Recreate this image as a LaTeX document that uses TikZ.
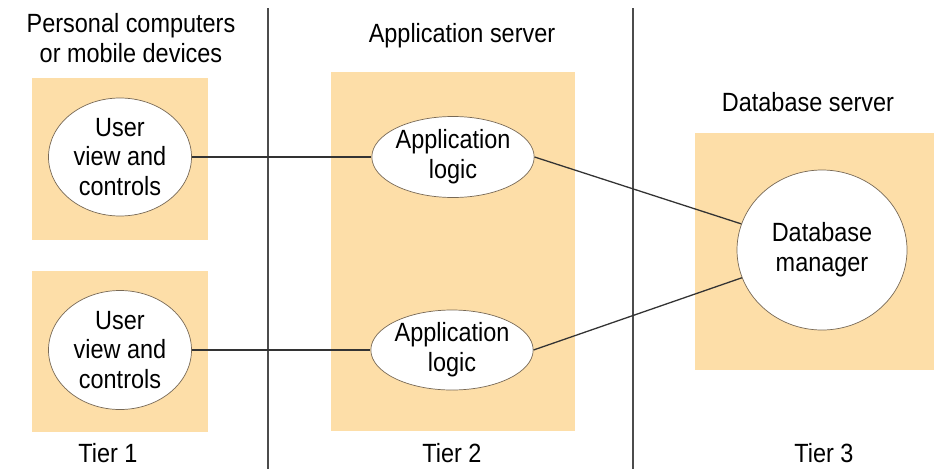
\documentclass[tikz,border=0pt]{standalone}
\usepackage{fontspec}
\setmainfont[FakeStretch=0.89]{Liberation Sans}
\usetikzlibrary{shapes.geometric}

\definecolor{tierfill}{RGB}{253,222,168}
\definecolor{rim}{RGB}{120,105,85}

\tikzset{
    tierbox/.style={fill=tierfill, draw=none},
    proc/.style={ellipse, draw=rim, line width=0.6pt, fill=white, inner sep=0pt,
        align=center, font=\fontsize{22.5}{25.5}\selectfont},
    caption/.style={align=center, font=\fontsize{22.5}{25.5}\selectfont, inner sep=0pt},
    link/.style={draw=black!80, line width=1.1pt},
    divider/.style={draw=black!70, line width=1pt}
}

\begin{document}
\begin{tikzpicture}[x=0.03cm,y=-0.03cm]
    \useasboundingbox (0,0) rectangle (934,469);
    % tier dividers
    \draw[divider] (268,8) -- (268,469);
    \draw[divider] (633,8) -- (633,469);
    % shaded areas
    \fill[tierbox] (32,78) rectangle (208,240);
    \fill[tierbox] (32,271) rectangle (208,432);
    \fill[tierbox] (331,72) rectangle (575,431);
    \fill[tierbox] (695,133) rectangle (934,370);
    % headings
    \node[caption, anchor=base] (pcs) at (131,62) {Personal computers\\or mobile devices};
    \node[caption, anchor=base] (appsrv) at (462,42) {Application server};
    \node[caption, anchor=base] (dbsrv) at (808,111) {Database server};
    \node[caption, anchor=base] (tier1) at (108,462) {Tier 1};
    \node[caption, anchor=base] (tier2) at (452,462) {Tier 2};
    \node[caption, anchor=base] (tier3) at (824,462) {Tier 3};
    % processes
    \node[proc, minimum width=4.29cm, minimum height=3.54cm] (view1) at (120,157) {User\\view and\\controls};
    \node[proc, minimum width=4.29cm, minimum height=3.57cm] (view2) at (120,350) {User\\view and\\controls};
    \node[proc, minimum width=4.8cm, minimum height=2.43cm] (logic1) at (453,157) {Application\\logic};
    \node[proc, minimum width=4.8cm, minimum height=2.4cm] (logic2) at (452,350) {Application\\logic};
    \node[proc, minimum width=5.1cm, minimum height=4.8cm] (dbm) at (822,250) {Database\\manager};
    % connections
    \draw[link] (view1.east) -- (logic1.west);
    \draw[link] (view2.east) -- (logic2.west);
    \draw[link] (logic1.east) -- (dbm);
    \draw[link] (logic2.east) -- (dbm);
\end{tikzpicture}
\end{document}
